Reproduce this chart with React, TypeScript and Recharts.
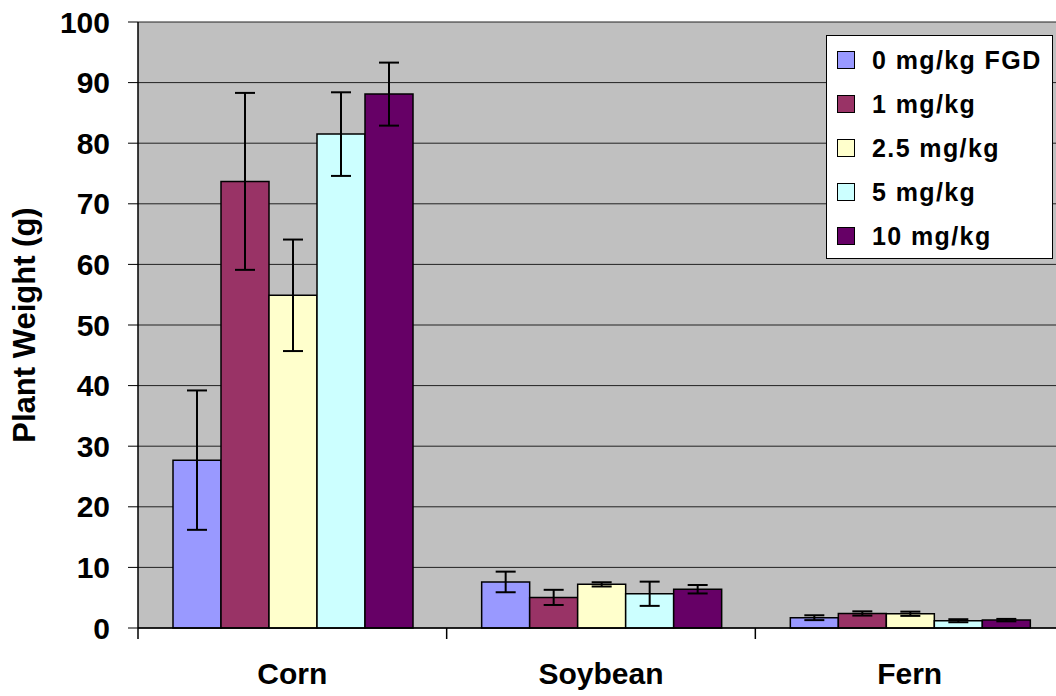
import { Bar, BarChart, CartesianGrid, ErrorBar, Legend, XAxis, YAxis } from "recharts";

const FONT = "'Liberation Sans', Arial, sans-serif";

const crops = ["Corn", "Soybean", "Fern"];
const doseNames = ["0 mg/kg FGD", "1 mg/kg", "2.5 mg/kg", "5 mg/kg", "10 mg/kg"];
const doseColors = ["#9999FF", "#993366", "#FFFFCC", "#CCFFFF", "#660066"];

const dose0 = [27.7, 7.6, 1.7];
const dose1 = [73.7, 5.05, 2.4];
const dose2 = [54.9, 7.2, 2.35];
const dose5 = [81.5, 5.65, 1.2];
const dose10 = [88.1, 6.4, 1.3];

const err0 = [11.5, 1.7, 0.4];
const err1 = [14.6, 1.25, 0.35];
const err2 = [9.2, 0.35, 0.35];
const err5 = [6.9, 2.0, 0.25];
const err10 = [5.2, 0.7, 0.2];

const yTicks = [0, 10, 20, 30, 40, 50, 60, 70, 80, 90, 100];

const values = [dose0, dose1, dose2, dose5, dose10];
const errors = [err0, err1, err2, err5, err10];

const data = crops.map((crop, i) => {
  const row: Record<string, string | number> = { crop };
  values.forEach((v, s) => {
    row[`v${s}`] = v[i];
    row[`e${s}`] = errors[s][i];
  });
  return row;
});

const LABEL_GAP = 35;

// category label plus the short tick mark at the left edge of its band
const CropTick = (props: any) => {
  const { x, y, payload, width, visibleTicksCount } = props;
  const band = Number(width) / Number(visibleTicksCount);
  const axisY = y - LABEL_GAP;
  return (
    <g>
      {Number.isFinite(band) && (
        <line x1={x - band / 2} x2={x - band / 2} y1={axisY} y2={axisY + 11} stroke="#000" strokeWidth={1.5} />
      )}
      <text
        x={x}
        y={y}
        dy="0.71em"
        textAnchor="middle"
        fontSize={30}
        fontWeight={700}
        fill="#000"
        fontFamily={FONT}
      >
        {payload.value}
      </text>
    </g>
  );
};

const LegendBox = () => (
  <div
    style={{
      background: "#fff",
      border: "1px solid #000",
      width: 225,
      height: 220,
      paddingTop: 2,
      boxSizing: "content-box",
      fontFamily: FONT,
    }}
  >
    {doseNames.map((name, i) => (
      <div key={name} style={{ display: "flex", alignItems: "center", height: 44 }}>
        <span
          style={{
            display: "inline-block",
            width: 16,
            height: 16,
            marginLeft: 10,
            marginRight: 17,
            background: doseColors[i],
            border: "1px solid #000",
          }}
        />
        <span style={{ fontSize: 25, fontWeight: 700, color: "#000", letterSpacing: 1.4 }}>{name}</span>
      </div>
    ))}
  </div>
);

export default function App() {
  return (
    <div
      style={{
        position: "fixed",
        left: 0,
        top: 0,
        width: 1056,
        height: 696,
        overflow: "hidden",
        background: "#fff",
      }}
    >
      <BarChart
        width={1064}
        height={696}
        data={data}
        margin={{ top: 22, right: 0, bottom: 0, left: 0 }}
        barCategoryGap={35}
        barGap={0}
      >
        <CartesianGrid vertical={false} fill="#C0C0C0" stroke="#222" strokeWidth={1} fillOpacity={1} />
        <XAxis
          dataKey="crop"
          height={68}
          tickSize={0}
          tickMargin={LABEL_GAP}
          axisLine={{ stroke: "#000", strokeWidth: 1.5 }}
          tickLine={false}
          tick={<CropTick />}
        />
        <YAxis
          width={138}
          domain={[0, 100]}
          ticks={yTicks}
          interval={0}
          tickSize={10}
          tickMargin={18}
          axisLine={{ stroke: "#000", strokeWidth: 1.5 }}
          tickLine={{ stroke: "#000" }}
          tick={{ fontSize: 30, fontWeight: 700, fill: "#000", fontFamily: FONT }}
          label={{
            value: "Plant Weight (g)",
            angle: -90,
            position: "insideLeft",
            offset: 24,
            style: { fontSize: 31, fontWeight: 700, fill: "#000", fontFamily: FONT, textAnchor: "middle" },
          }}
        />
        <Legend
          layout="horizontal"
          verticalAlign="middle"
          align="center"
          content={<LegendBox />}
          wrapperStyle={{ position: "absolute", left: 826, top: 35, width: "auto", height: "auto" }}
        />
        {doseNames.map((name, s) => (
          <Bar
            key={name}
            dataKey={`v${s}`}
            name={name}
            fill={doseColors[s]}
            stroke="#000"
            strokeWidth={1.5}
            isAnimationActive={false}
          >
            <ErrorBar dataKey={`e${s}`} width={10} stroke="#000" strokeWidth={2} direction="y" />
          </Bar>
        ))}
      </BarChart>
    </div>
  );
}
